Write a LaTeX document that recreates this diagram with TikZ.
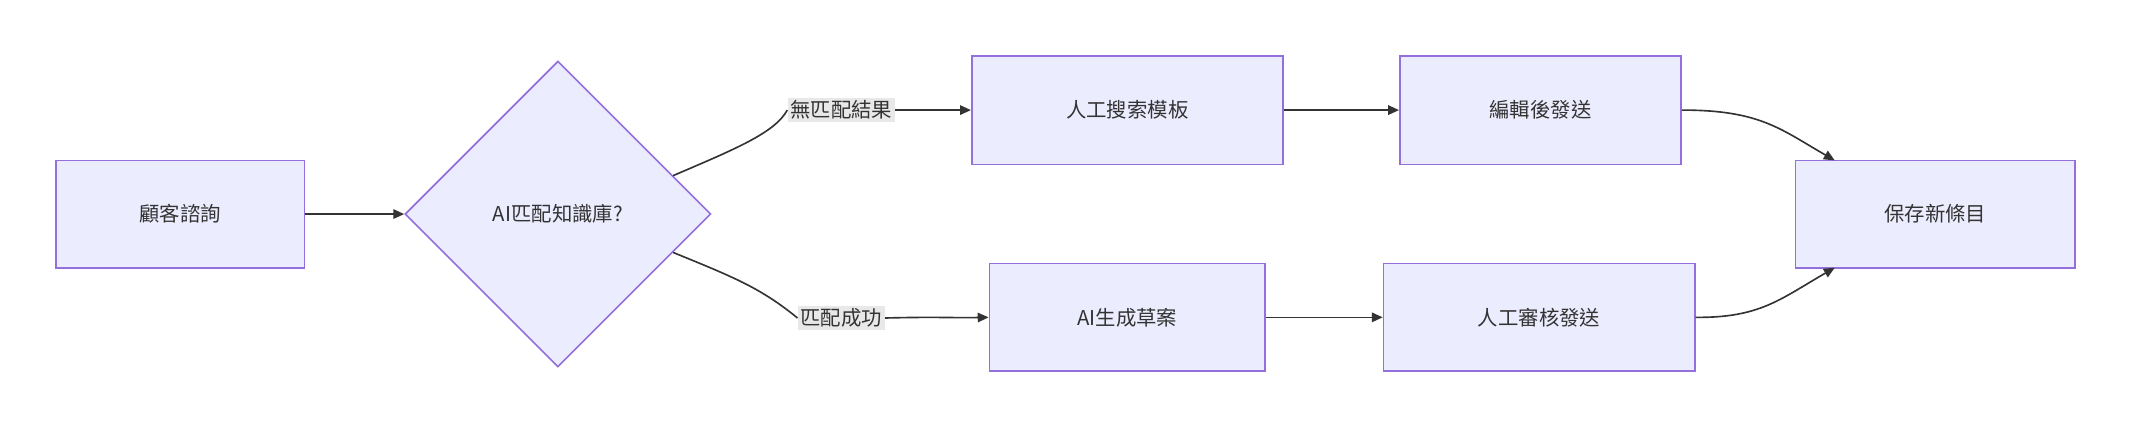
\documentclass[tikz,border=0pt]{standalone}
\usepackage{fontspec}
\setmainfont{Noto Sans CJK TC}
\usetikzlibrary{shapes.geometric,calc,arrows.meta}
\definecolor{nfill}{HTML}{ECECFF}
\definecolor{nbord}{HTML}{9370DB}
\definecolor{lcol}{HTML}{333333}
\definecolor{lbg}{HTML}{E8E8E8}
\begin{document}
\begin{tikzpicture}[x=1pt,y=-1pt,
  box/.style={draw=nbord,fill=nfill,line width=1.2pt,font=\fontsize{15}{18}\selectfont,text=lcol,inner sep=0pt},
  lab/.style={fill=lbg,font=\fontsize{15}{18}\selectfont,text=lcol,inner sep=2pt},
  edge/.style={draw=lcol,line width=1.2pt},
  arr/.style={edge,-{Triangle[length=8pt,width=7pt]}}]
\useasboundingbox (0,0) rectangle (1568,315);
\node[box,minimum width=183pt,minimum height=79pt] (a) at (132.5,157.5) {顧客諮詢};
\node[box,diamond,minimum width=225pt,minimum height=225pt] (d) at (410.5,157.5) {AI匹配知識庫?};
\node[box,minimum width=229pt,minimum height=80pt] (b) at (829.5,81) {人工搜索模板};
\node[box,minimum width=207pt,minimum height=80pt] (c) at (1133.5,81) {編輯後發送};
\node[box,minimum width=203pt,minimum height=79pt] (e) at (829.5,233.5) {AI生成草案};
\node[box,minimum width=229pt,minimum height=79pt] (f) at (1132.5,233.5) {人工審核發送};
\node[box,minimum width=206pt,minimum height=79pt] (g) at (1424,157.5) {保存新條目};
\node[lab] (l1) at (619,81) {無匹配結果};
\node[lab] (l2) at (619,234) {匹配成功};
\draw[arr] (a.east) -- (d.west);
\draw[edge] ($(d.east)!0.25!(d.north)$) .. controls (540,110) and (570,98) .. (l1.west);
\draw[arr] (l1.east) -- (b.west);
\draw[edge] ($(d.east)!0.25!(d.south)$) .. controls (540,204) and (560,212) .. (l2.west);
\draw[arr] (l2.east) .. controls (690,233) and (700,234) .. (e.west);
\draw[arr] (b.east) -- (c.west);
\draw[arr] (e.east) -- (f.west);
\draw[arr] (c.east) .. controls (1295,81) and (1310,95) .. (1350,118);
\draw[arr] (f.east) .. controls (1295,234) and (1310,220) .. (1350,197);
\end{tikzpicture}
\end{document}
